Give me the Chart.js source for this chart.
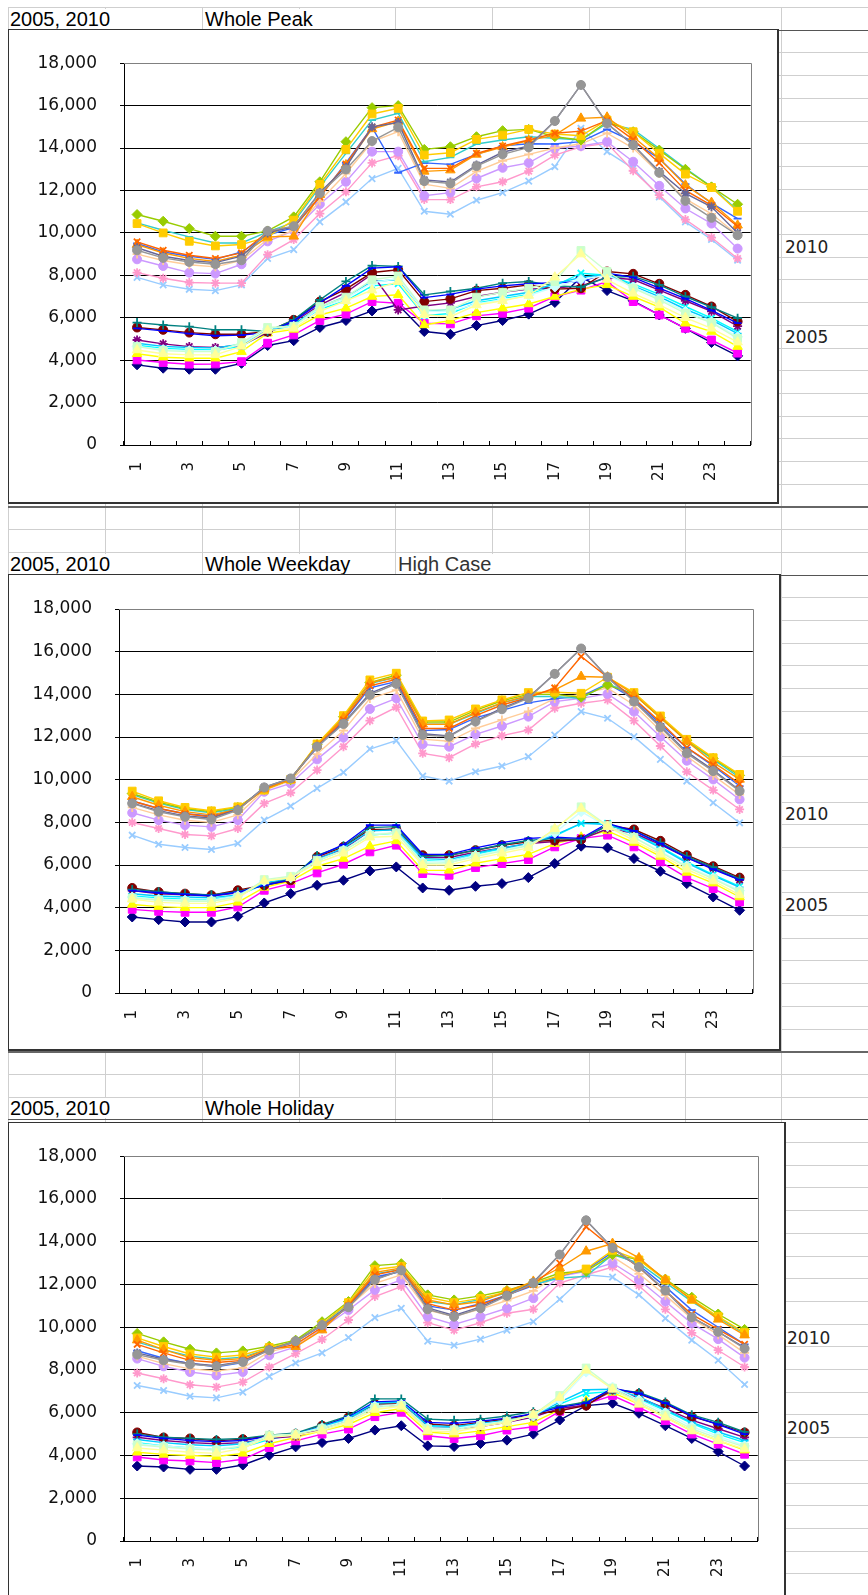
<!DOCTYPE html>
<html><head><meta charset="utf-8">
<script src="https://cdn.jsdelivr.net/npm/chart.js@4/dist/chart.umd.min.js"></script>
<style>
body{margin:0;background:#fff;}
#page{position:relative;width:868px;height:1595px;overflow:hidden;background:#fff;}
.hl,.vl{position:absolute;background:#cfcfcf;}
.box{position:absolute;background:#fff;border-left:1px solid #333;border-top:1px solid #333;border-right:2px solid #333;border-bottom:2px solid #333;z-index:3;}
.box canvas{display:block;}
.t{position:absolute;font-family:'Liberation Sans',Arial,sans-serif;font-size:20px;line-height:20px;color:#000;background:#fff;padding-right:2px;z-index:2;white-space:nowrap;}
.s{position:absolute;font-family:'DejaVu Sans',sans-serif;font-size:17px;line-height:20px;color:#222;z-index:2;}
</style></head>
<body><div id="page">
<div class="t" style="left:10px;top:9px;">2005, 2010</div>
<div class="t" style="left:205px;top:9px;">Whole Peak</div>
<div class="t" style="left:10px;top:554px;">2005, 2010</div>
<div class="t" style="left:205px;top:554px;">Whole Weekday</div>
<div class="t" style="left:398px;top:554px;color:#333;">High Case</div>
<div class="t" style="left:10px;top:1098px;">2005, 2010</div>
<div class="t" style="left:205px;top:1098px;">Whole Holiday</div>
<div class="s" style="left:785px;top:237px;">2010</div>
<div class="s" style="left:785px;top:327px;">2005</div>
<div class="s" style="left:785px;top:804px;">2010</div>
<div class="s" style="left:785px;top:895px;">2005</div>
<div class="s" style="left:787px;top:1328px;">2010</div>
<div class="s" style="left:787px;top:1418px;">2005</div>
<div class="box" style="left:8px;top:29px;width:768px;height:472px;"><canvas id="c1" width="768" height="472"></canvas></div>
<div class="box" style="left:8px;top:574px;width:770px;height:474px;"><canvas id="c2" width="770" height="474"></canvas></div>
<div class="box" style="left:8px;top:1122px;width:775px;height:480px;"><canvas id="c3" width="775" height="473"></canvas></div>
</div>
<script>
// ---------- categories & axis ----------
const hours = ['1','2','3','4','5','6','7','8','9','10','11','12','13','14','15','16','17','18','19','20','21','22','23','24'];
const yMin = 0, yMax = 18000, yStep = 2000;
const seriesNames = ['2005-1','2005-2','2005-3','2005-4','2005-5','2005-6','2005-7','2005-8','2005-9','2005-10','2005-11','2005-12',
  '2010-1','2010-2','2010-3','2010-4','2010-5','2010-6','2010-7','2010-8','2010-9','2010-10','2010-11','2010-12'];
const seriesColors = ['#000080','#FF00FF','#FFFF00','#00FFFF','#800080','#800000','#008080','#0000FF','#00CCFF','#CCFFFF','#CCFFCC','#FFFF99',
  '#99CCFF','#FF99CC','#CC99FF','#FFCC99','#3366FF','#33CCCC','#99CC00','#FFCC00','#FF9900','#FF6600','#666699','#969696'];
const seriesMarkers = ['rectRot','rect','triangle','crossRot','star','circle','cross','line','line','rectRot','rect','triangle',
  'crossRot','star','circle','cross','line','line','rectRot','rect','triangle','crossRot','star','circle'];

// ---------- Whole Peak ----------
const pk01=[3780,3620,3570,3570,3850,4690,4920,5540,5870,6320,6610,5350,5220,5630,5870,6170,6720,7910,7280,6800,6130,5500,4830,4200];
const pk02=[4010,3890,3810,3820,3930,4800,5190,5870,6170,6760,6680,5740,5710,6090,6210,6450,7000,7300,7710,6760,6130,5500,4950,4330];
const pk03=[4300,4140,4090,4090,4400,5270,5450,6130,6450,7000,7080,5660,5870,6240,6450,6650,7000,7350,7550,7000,6500,5740,5350,4640];
const pk04=[4700,4550,4500,4480,4650,5350,5650,6400,6800,7500,7600,6100,6200,6700,6900,7100,7500,8100,8000,7600,7100,6530,5980,5350];
const pk05=[4950,4770,4640,4600,4700,5300,5800,6600,7200,8050,6370,6550,6700,7000,7200,7350,7400,7500,7900,7800,7300,6800,6300,5600];
const pk06=[5540,5430,5300,5220,5220,5350,5900,6760,7350,8130,8260,6760,6890,7280,7390,7550,7350,7390,8180,8070,7600,7080,6530,5820];
const pk07=[5770,5660,5580,5430,5430,5350,5900,6840,7710,8460,8420,7080,7240,7390,7630,7710,7500,7450,7900,7950,7550,7000,6500,5980];
const pk08=[5500,5380,5250,5150,5180,5300,5850,6700,7500,8340,8400,6950,7100,7350,7500,7600,7650,7700,8100,7900,7400,6900,6350,5750];
const pk09=[4800,4650,4600,4580,4750,5400,5700,6500,7000,7700,7800,6300,6400,6800,7000,7200,7600,7900,8050,7500,7000,6400,5900,5250];
const pk10=[4650,4500,4450,4450,4750,5500,5600,6450,6900,7650,7850,6300,6300,6650,6850,7050,7450,7800,8000,7450,6900,6300,5800,5100];
const pk11=[4640,4450,4400,4400,4830,5540,5600,6530,6970,7790,7970,6370,6370,6970,7200,7390,7700,9170,8180,7390,6840,6210,5770,5030];
const pk12=[4480,4300,4250,4250,4650,5400,5500,6300,6800,7300,7700,6140,6050,6600,6800,7050,7910,9000,7800,7150,6600,6000,5500,4850];
const pk13=[7900,7550,7340,7280,7550,8790,9210,10520,11460,12560,13040,11020,10880,11540,11900,12440,13120,14930,13830,13040,11700,10520,9690,8710];
const pk14=[8125,7860,7660,7630,7630,8975,9685,10910,11935,13300,13640,11575,11570,12170,12410,12910,13670,14060,14220,12930,11780,10630,9780,8790];
const pk15=[8755,8440,8125,8080,8520,9600,10100,11350,12410,13830,13830,11750,11900,12565,13070,13300,13985,14095,14300,13355,12220,11150,10440,9260];
const pk16=[9000,8700,8500,8400,8700,9700,10100,11500,12800,14300,14770,12300,12100,12900,13400,13700,14000,14200,14700,14000,12800,11600,10900,9900];
const pk17=[9500,9100,8900,8750,9100,9900,10250,11700,13300,14975,12835,13300,13230,13700,14100,14200,14190,14300,14880,14300,13500,12300,11400,10675];
const pk18=[10470,10125,9810,9525,9525,10050,10500,12170,13750,15320,15640,13355,13560,14190,14380,14535,14460,14380,15160,14880,13980,13040,12170,11070];
const pk19=[10865,10550,10204,9841,9841,10093,10755,12409,14300,15905,16000,13937,14062,14535,14820,14880,14535,14380,15240,14770,13905,13000,12170,11350];
const pk20=[10440,9999,9605,9385,9450,9810,10600,12283,13937,15606,15870,13670,13780,14410,14610,14880,14660,14580,15320,14770,13750,12770,12140,11020];
const pk21=[9450,9050,8800,8650,8950,9810,9840,11800,13200,14900,15250,12900,12960,13700,14050,14350,14610,15400,15450,14535,13510,12250,11430,10360];
const pk22=[9575,9180,8945,8790,9055,10050,10280,11700,13245,14975,15320,13040,13040,13750,14095,14380,14700,14800,15300,14400,13300,12000,11300,10300];
const pk23=[9300,8900,8700,8600,8900,10000,10300,11900,13100,15000,15200,12500,12400,13200,13800,14100,15275,16975,15160,14140,12900,11860,11230,10000];
const pk24=[9180,8820,8630,8520,8710,10090,10315,11860,12990,14330,14975,12440,12330,13150,13700,14030,15275,16975,15160,14140,12835,11510,10710,9890];

// ---------- Whole Weekday (High Case) ----------
const wd01=[3563,3437,3327,3327,3594,4220,4658,5049,5284,5722,5910,4924,4814,5002,5128,5409,6067,6881,6803,6302,5707,5128,4502,3876];
const wd02=[3922,3828,3782,3782,4032,4814,5128,5628,6036,6615,6928,5597,5519,5879,6067,6255,6850,7241,7398,6850,6145,5409,4892,4266];
const wd03=[4150,4050,4000,4000,4250,4950,5250,5942,6302,6880,7130,5754,5750,6080,6300,6500,7000,7300,7600,7050,6400,5650,5150,4500];
const wd04=[4550,4450,4400,4380,4550,5100,5400,6200,6700,7400,7500,6200,6150,6500,6750,6950,7350,7950,7950,7500,6850,6150,5550,5000];
const wd05=[4800,4650,4600,4550,4700,5100,5350,6300,6750,7600,7700,6350,6350,6600,6800,7000,7100,7200,7700,7500,6950,6350,5850,5300];
const wd06=[4924,4736,4658,4580,4814,5049,5284,6381,6850,7664,7664,6459,6459,6693,6928,7085,7163,7194,7867,7664,7132,6459,5942,5409];
const wd07=[4850,4750,4650,4600,4750,5050,5350,6450,6900,7750,7800,6400,6450,6700,6950,7150,7250,7200,7850,7600,7050,6400,5900,5350];
const wd08=[4800,4700,4620,4560,4720,5050,5300,6400,6950,7867,7867,6500,6500,6800,7050,7250,7300,7250,7946,7600,7000,6350,5800,5300];
const wd09=[4650,4550,4500,4470,4600,5150,5400,6250,6800,7600,7650,6300,6250,6550,6800,7000,7400,7950,7900,7450,6800,6100,5500,4950];
const wd10=[4500,4400,4350,4350,4550,5250,5400,6200,6700,7450,7500,6150,6150,6450,6700,6950,7500,8500,7800,7300,6650,5950,5400,4800];
const wd11=[4450,4350,4300,4300,4500,5316,5470,6224,6662,7398,7507,6067,6100,6400,6650,6900,7650,8728,7850,7300,6600,5900,5350,4750];
const wd12=[4400,4250,4200,4200,4450,5250,5400,6100,6550,7300,7350,6000,6000,6300,6550,6800,7700,8650,7800,7150,6500,5800,5250,4600];
const wd13=[7398,6975,6819,6725,7006,8102,8760,9590,10341,11437,11828,10169,9934,10372,10638,11077,12094,13190,12877,12016,10951,9934,8916,7977];
const wd14=[7993,7711,7429,7367,7711,8885,9386,10450,11546,12767,13394,11233,11030,11672,12063,12329,13347,13581,13738,12767,11578,10372,9511,8603];
const wd15=[8447,8102,7868,7789,8102,9433,9824,10952,11969,13315,13816,11656,11546,12125,12517,12955,13660,13816,14020,13190,12016,10889,10012,9073];
const wd16=[8700,8350,8100,8000,8350,9500,9950,11200,12300,13800,14200,11900,11800,12400,12800,13200,13800,14000,14300,13500,12300,11100,10200,9300];
const wd17=[9000,8650,8400,8300,8650,9600,10050,11500,12750,14300,14600,12300,12350,12900,13250,13600,13800,13900,14500,13800,12600,11500,10650,9700];
const wd18=[9300,8900,8600,8450,8650,9550,10000,11600,12900,14500,14800,12600,12600,13100,13600,13900,13900,13800,14500,14000,12900,11800,10950,10100];
const wd19=[9350,8950,8650,8500,8700,9550,10000,11650,12950,14550,14900,12700,12700,13250,13700,14000,14000,13863,14443,14000,12900,11850,11000,10200];
const wd20=[9464,9010,8697,8540,8728,9511,10012,11672,13002,14677,14990,12752,12799,13315,13738,14083,14100,14050,14803,14083,12987,11891,11030,10247];
const wd21=[9198,8800,8500,8350,8600,9550,10000,11600,12900,14550,14800,12600,12600,13150,13600,13950,14207,14834,14803,14000,12900,11800,10810,10012];
const wd22=[9000,8650,8400,8250,8600,9600,10050,11550,12800,14400,14700,12400,12400,13000,13500,13850,14300,15773,14800,13800,12700,11500,10700,9800];
const wd23=[8900,8550,8300,8200,8600,9650,10060,11550,12650,14050,14550,12150,12050,12750,13350,13850,14960,16149,14803,13700,12500,11300,10450,9500];
const wd24=[8885,8494,8259,8134,8572,9636,10059,11546,12611,13973,14490,12094,12016,12720,13300,13816,14960,16149,14803,13660,12454,11233,10403,9464];

// ---------- Whole Holiday ----------
const hd01=[3508,3461,3351,3351,3555,4010,4403,4607,4795,5188,5392,4450,4419,4560,4717,5000,5659,6334,6444,5973,5392,4795,4183,3508];
const hd02=[3932,3791,3744,3665,3822,4372,4685,5000,5235,5816,6020,4921,4795,4921,5188,5345,6067,6413,6805,6256,5627,5000,4529,4058];
const hd03=[4150,4050,4000,3950,4100,4550,4850,5150,5450,6000,6200,5100,5000,5150,5350,5550,6150,6550,6950,6400,5800,5150,4700,4250];
const hd04=[4600,4450,4350,4300,4400,4750,5000,5300,5700,6400,6500,5350,5300,5450,5600,5800,6400,6900,7000,6650,6100,5500,5000,4600];
const hd05=[4850,4700,4600,4550,4600,4800,4900,5250,5650,6300,6350,5300,5250,5350,5550,5800,6200,6350,7050,6700,6200,5650,5250,4850];
const hd06=[5078,4842,4795,4685,4764,4921,5000,5392,5784,6413,6413,5470,5392,5549,5706,5941,6100,6334,7118,6884,6413,5816,5470,5078];
const hd07=[5000,4850,4800,4750,4800,4950,5050,5450,5850,6648,6648,5700,5650,5700,5850,6050,6300,6500,7100,6950,6500,5900,5550,5100];
const hd08=[4950,4800,4700,4650,4700,4900,5000,5350,5800,6500,6550,5550,5500,5600,5750,5950,6250,6450,7150,6900,6450,5850,5450,5000];
const hd09=[4750,4600,4500,4450,4550,4850,5000,5350,5750,6450,6500,5400,5350,5500,5650,5850,6500,7072,7100,6750,6150,5550,5100,4700];
const hd10=[4550,4450,4350,4300,4450,4900,5000,5300,5650,6300,6400,5300,5250,5450,5600,5850,6600,7900,7200,6600,6000,5350,4900,4450];
const hd11=[4500,4400,4300,4250,4450,4950,5000,5250,5600,6250,6350,5250,5200,5400,5600,5900,6805,8092,7150,6500,5900,5250,4800,4400];
const hd12=[4350,4250,4150,4100,4350,4850,4950,5150,5550,6150,6300,5150,5100,5350,5550,5900,6700,7982,7100,6400,5800,5150,4700,4300];
const hd13=[7276,7040,6773,6695,6962,7700,8328,8798,9520,10447,10886,9348,9159,9442,9866,10258,11310,12456,12346,11514,10415,9395,8453,7323];
const hd14=[7856,7589,7307,7197,7433,8139,8767,9426,10337,11436,11906,10211,9866,10211,10651,10839,12063,12456,12817,11938,10839,9740,8924,8139];
const hd15=[8532,8170,7904,7747,7904,8688,9081,9944,10808,11749,12220,10494,10132,10494,10886,11357,12377,12613,13005,12220,11200,10180,9442,8578];
const hd16=[8650,8300,8050,7950,8100,8850,9150,10000,10950,12050,12450,10800,10500,10850,11250,11700,12500,12700,13300,12500,11500,10400,9650,8800];
const hd17=[8900,8550,8300,8150,8350,8950,9300,10100,11000,12350,12600,11000,10800,11100,11500,11950,12400,12700,13500,12900,11900,10800,10000,9200];
const hd18=[9300,8950,8650,8500,8600,9000,9350,10150,11100,12500,12700,11200,11050,11300,11600,12000,12300,12377,13400,13000,12100,11200,10450,9700];
const hd19=[9709,9316,8971,8798,8893,9112,9395,10258,11200,12880,12974,11514,11278,11467,11718,12095,12534,12613,13398,13162,12252,11404,10619,9897];
const hd20=[9500,9100,8750,8600,8700,9050,9300,10150,11150,12700,12850,11400,11150,11350,11650,12050,12409,12723,13600,13150,12200,11300,10500,9750];
const hd21=[9395,8955,8578,8453,8532,9002,9081,9866,11043,12566,12770,11278,11043,11200,11671,12142,12770,13555,13916,13241,12220,11278,10368,9630];
const hd22=[9200,8800,8450,8350,8450,8950,9200,10000,11000,12450,12700,11100,10800,11050,11500,12000,13000,14700,13700,12800,11700,10600,9900,9200];
const hd23=[8800,8500,8300,8200,8400,8950,9350,10100,10950,12250,12650,10900,10550,10950,11500,12100,13398,14999,13711,12817,11718,10462,9787,9050];
const hd24=[8720,8453,8265,8170,8375,8924,9348,10101,10933,12220,12660,10839,10494,10886,11467,12063,13398,14999,13711,12817,11718,10462,9787,9002];

const peakSeries=[pk01,pk02,pk03,pk04,pk05,pk06,pk07,pk08,pk09,pk10,pk11,pk12,pk13,pk14,pk15,pk16,pk17,pk18,pk19,pk20,pk21,pk22,pk23,pk24];
const weekdaySeries=[wd01,wd02,wd03,wd04,wd05,wd06,wd07,wd08,wd09,wd10,wd11,wd12,wd13,wd14,wd15,wd16,wd17,wd18,wd19,wd20,wd21,wd22,wd23,wd24];
const holidaySeries=[hd01,hd02,hd03,hd04,hd05,hd06,hd07,hd08,hd09,hd10,hd11,hd12,hd13,hd14,hd15,hd16,hd17,hd18,hd19,hd20,hd21,hd22,hd23,hd24];

// ---------- sheet grid (decoration) ----------
(function(){
  const page=document.getElementById('page');
  const cols=[8,105,202,299,395,492,589,685,781];
  for(const x of cols){const d=document.createElement('div');d.className='vl';d.style.cssText=`left:${x}px;top:7px;width:1px;height:1600px;`;page.appendChild(d);}
  const dark={1:[1,'#555'],22:[2,'#666'],25:[1,'#555'],46:[2,'#666'],49:[1,'#555']};
  for(let k=0;k<72;k++){const y=Math.round(7+k*22.7);const d=document.createElement('div');d.className='hl';
    const s=dark[k]; d.style.cssText=`left:8px;top:${y}px;width:860px;height:${s?s[0]:1}px;${s?'background:'+s[1]+';z-index:1;':''}`;page.appendChild(d);}
})();

const radiusFor={rectRot:5,rect:5.5,triangle:5.5,crossRot:4.5,star:4.5,circle:4.5,cross:4.5,line:4};
const plotBorder={id:'plotBorder',beforeDatasetsDraw(chart){const {ctx,chartArea:a}=chart;ctx.save();ctx.strokeStyle='#808080';ctx.lineWidth=1;
  ctx.beginPath();const r=Math.round(a.right)+0.5,t=Math.round(a.top)+0.5;ctx.moveTo(Math.round(a.left),t);ctx.lineTo(r,t);ctx.lineTo(r,Math.round(a.bottom));ctx.stroke();ctx.restore();}};

function makeChart(id,series,g){
  const datasets=series.map((data,i)=>{const m=seriesMarkers[i],c=seriesColors[i];
    const stroke=(m==='crossRot'||m==='star'||m==='cross'||m==='line');
    return {label:seriesNames[i],data:data,borderColor:c,backgroundColor:c,pointBackgroundColor:c,pointBorderColor:c,
      borderWidth:1.4,pointStyle:m,pointRadius:radiusFor[m],pointBorderWidth:stroke?1.8:1,tension:0,fill:false,order:23-i};});
  return new Chart(document.getElementById(id),{type:'line',data:{labels:hours,datasets},
    options:{responsive:false,animation:false,events:[],devicePixelRatio:1,
      layout:{padding:{top:g.pt,right:g.pr,left:0,bottom:0}},
      plugins:{legend:{display:false},tooltip:{enabled:false},title:{display:false}},
      scales:{
        x:{type:'category',offset:true,
          grid:{offset:true,drawOnChartArea:false,drawTicks:true,tickLength:-4,color:'#000',lineWidth:1},
          border:{color:'#000',width:1},
          ticks:{autoSkip:false,minRotation:90,maxRotation:90,padding:21,color:'#111',font:{family:'DejaVu Sans',size:15},
            callback:(v,i)=> i%2===0?hours[i]:''},
          afterFit:s=>{s.height=g.xh;}},
        y:{min:yMin,max:yMax,
          ticks:{stepSize:yStep,padding:23,color:'#111',font:{family:'DejaVu Sans',size:17},callback:v=>Number(v).toLocaleString('en-US')},
          grid:{color:ctx=>(ctx.tick&&ctx.tick.value===yMax)?'#808080':'#000',tickColor:'#000',tickLength:4,lineWidth:1},
          border:{color:'#000',width:1},
          afterFit:s=>{s.width=g.yw;}}
      }},plugins:[plotBorder]});
}
makeChart('c1',peakSeries,{pt:33,pr:19,xh:57,yw:115});
makeChart('c2',weekdaySeries,{pt:34,pr:19,xh:56,yw:110});
makeChart('c3',holidaySeries,{pt:33,pr:20,xh:55,yw:115});
</script>
</body></html>
